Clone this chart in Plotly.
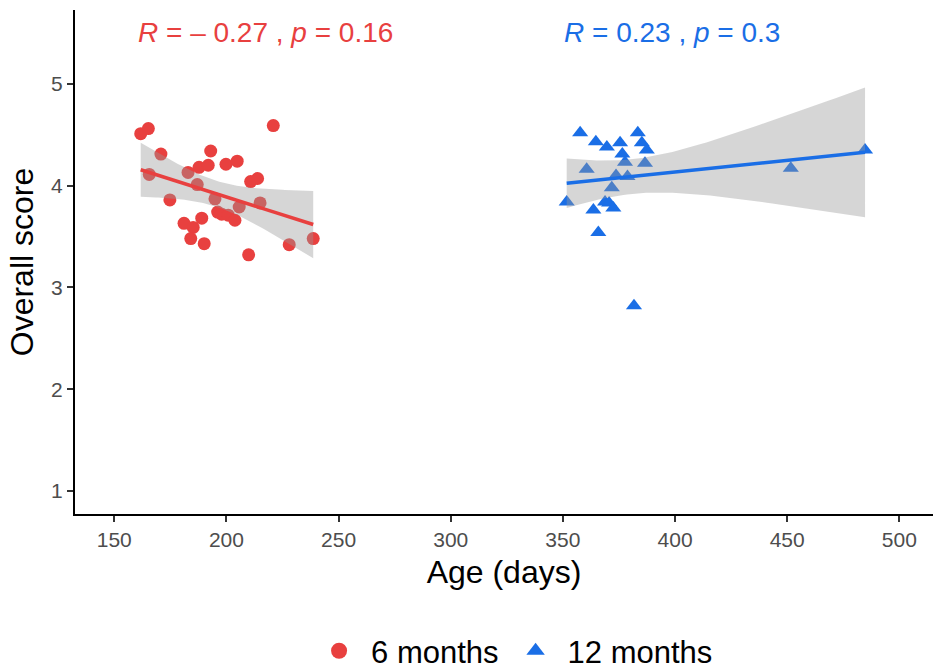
import math
import numpy as np
import plotly.graph_objects as go

# ---------------- data ----------------
age_6m = [161.8, 165.2, 170.8, 165.6, 174.8, 193.0, 187.8, 191.9, 182.9, 187.0,
          199.8, 204.8, 220.9, 210.8, 213.9, 194.9, 196.1, 197.9, 200.8, 203.8,
          205.7, 215.0, 189.0, 181.1, 185.2, 184.1, 190.1, 209.9, 228.0, 238.7]
score_6m = [4.51, 4.56, 4.31, 4.11, 3.86, 4.34, 4.18, 4.20, 4.13, 4.01,
            4.21, 4.24, 4.59, 4.04, 4.07, 3.87, 3.74, 3.72, 3.71, 3.66,
            3.79, 3.83, 3.68, 3.63, 3.59, 3.48, 3.43, 3.32, 3.42, 3.48]

age_12m = [357.7, 364.7, 369.6, 375.5, 383.4, 385.2, 387.4, 376.5, 377.7, 386.6,
           360.6, 373.7, 378.8, 371.8, 351.7, 368.8, 370.6, 372.5, 363.6, 365.8,
           381.7, 451.6, 484.7]
score_12m = [4.52, 4.43, 4.38, 4.42, 4.52, 4.42, 4.35, 4.31, 4.23, 4.22,
             4.16, 4.10, 4.09, 3.98, 3.84, 3.84, 3.83, 3.78, 3.76, 3.54,
             2.82, 4.17, 4.35]

group_names = ["6 months", "12 months"]
group_colors = ["#E8403F", "#1A6EE6"]
group_symbols = ["circle", "triangle-up"]
cor_labels = ["<i>R</i> = \u2013 0.27 , <i>p</i> = 0.16", "<i>R</i> = 0.23 , <i>p</i> = 0.3"]
label_y = 5.5

x_ticks = [150, 200, 250, 300, 350, 400, 450, 500]
y_ticks = [1, 2, 3, 4, 5]


def t_quantile(p, df):
    # numeric inverse of Student-t CDF (upper half)
    grid = np.linspace(0, 40, 400001)
    c = math.gamma((df + 1) / 2) / (math.sqrt(df * math.pi) * math.gamma(df / 2))
    pdf = c * (1 + grid ** 2 / df) ** (-(df + 1) / 2)
    cdf = 0.5 + np.concatenate([[0], np.cumsum((pdf[1:] + pdf[:-1]) / 2 * np.diff(grid))])
    return float(np.interp(p, cdf, grid))


def lm_band(x, y, n_out=80):
    x = np.asarray(x, float)
    y = np.asarray(y, float)
    n = len(x)
    b1, b0 = np.polyfit(x, y, 1)
    resid = y - (b0 + b1 * x)
    s = math.sqrt(np.sum(resid ** 2) / (n - 2))
    xbar = x.mean()
    sxx = np.sum((x - xbar) ** 2)
    xs = np.linspace(x.min(), x.max(), n_out)
    fit = b0 + b1 * xs
    se = s * np.sqrt(1 / n + (xs - xbar) ** 2 / sxx)
    tq = t_quantile(0.975, n - 2)
    return xs, fit, fit - tq * se, fit + tq * se


fig = go.Figure()
groups = [(age_6m, score_6m), (age_12m, score_12m)]

# points
for (gx, gy), col, sym in zip(groups, group_colors, group_symbols):
    fig.add_trace(go.Scatter(
        x=gx, y=gy, mode="markers", showlegend=False, hoverinfo="skip",
        marker=dict(color=col, symbol=sym, size=13 if sym == "circle" else 14,
                    line=dict(width=0))))

# confidence bands + fitted lines
for (gx, gy), col in zip(groups, group_colors):
    xs, fit, lo, hi = lm_band(gx, gy)
    fig.add_trace(go.Scatter(
        x=np.concatenate([xs, xs[::-1]]), y=np.concatenate([hi, lo[::-1]]),
        fill="toself", fillcolor="rgba(153,153,153,0.4)", mode="lines",
        line=dict(width=0), showlegend=False, hoverinfo="skip"))
    fig.add_trace(go.Scatter(
        x=xs, y=fit, mode="lines", line=dict(color=col, width=3.5),
        showlegend=False, hoverinfo="skip"))

# legend entries
for name, col, sym in zip(group_names, group_colors, group_symbols):
    fig.add_trace(go.Scatter(
        x=[None], y=[None], mode="markers", name=name,
        marker=dict(color=col, symbol=sym, size=18)))

# correlation labels
for (gx, gy), col, lab in zip(groups, group_colors, cor_labels):
    fig.add_annotation(
        x=min(gx), y=label_y, text=lab, showarrow=False, xanchor="left",
        yanchor="middle", xshift=-5,
        font=dict(family="Liberation Sans, Arial", size=28, color=col))

fig.update_layout(
    width=933, height=672,
    margin=dict(l=75, r=0, t=10, b=158, autoexpand=False),
    plot_bgcolor="white", paper_bgcolor="white",
    font=dict(family="Liberation Sans, Arial", color="black"),
    legend=dict(orientation="h", x=0.51, xanchor="center", y=-0.272, yanchor="middle",
                font=dict(size=31, color="black"), itemwidth=54,
                bgcolor="rgba(0,0,0,0)", borderwidth=0),
    xaxis=dict(
        range=[132.5, 515.0], tickvals=x_ticks, showgrid=False, zeroline=False,
        showline=True, linecolor="black", linewidth=2, ticks="outside", ticklen=6,
        tickwidth=1.5, tickcolor="#333333",
        tickfont=dict(size=21, color="#4D4D4D"),
        title=dict(text="Age (days)", font=dict(size=32, color="black"), standoff=10)),
    yaxis=dict(
        range=[0.775, 5.725], tickvals=y_ticks, showgrid=False, zeroline=False,
        showline=True, linecolor="black", linewidth=2, ticks="outside", ticklen=6,
        tickwidth=1.5, tickcolor="#333333",
        tickfont=dict(size=21, color="#4D4D4D"),
        title=dict(text="Overall score", font=dict(size=32, color="black"), standoff=8)),
)

fig.write_html("out.html")
